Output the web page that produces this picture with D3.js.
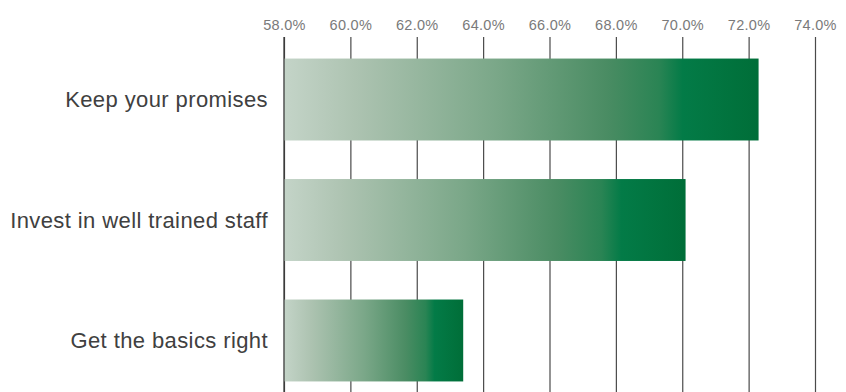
<!DOCTYPE html>
<html>
<head>
<meta charset="utf-8">
<script src="https://cdn.jsdelivr.net/npm/d3@7"></script>
<style>
  body { margin: 0; background: #fff; }
  svg { display: block; font-family: "Liberation Sans", Arial, sans-serif; }
  .x-axis text { fill: #7a7a7a; font-size: 14.5px; letter-spacing: 0.3px; }
  .cat-label { fill: #404040; font-size: 22px; letter-spacing: 0.4px; }
</style>
</head>
<body>
<svg id="chart" width="846" height="392"></svg>
<script>
const categories = ["Keep your promises", "Invest in well trained staff", "Get the basics right"];
const values = [72.3, 70.1, 63.4];
const tickValues = [58, 60, 62, 64, 66, 68, 70, 72, 74];

const WIDTH = 846;
const HEIGHT = 392;
const gridTop = 37;

const svg = d3.select("#chart");

const xScale = d3.scaleLinear().domain([58, 74]).range([284, 815]);

const yScale = d3
  .scaleBand()
  .domain(categories)
  .range([20, 420])
  .paddingInner(0.32)
  .paddingOuter(0.32);

// gradient for the bars, stretched over each bar
const defs = svg.append("defs");
const grad = defs
  .append("linearGradient")
  .attr("id", "barGrad")
  .attr("x1", "0%")
  .attr("x2", "100%")
  .attr("y1", "0%")
  .attr("y2", "0%");
[
  [0, "#c4d4c8"],
  [0.15, "#adc3b1"],
  [0.45, "#7aa788"],
  [0.68, "#4a8c63"],
  [0.79, "#2a8454"],
  [0.84, "#037b47"],
  [1, "#006e38"],
].forEach(([o, c]) => grad.append("stop").attr("offset", o).attr("stop-color", c));

// axis with gridlines
svg
  .append("g")
  .attr("class", "x-axis")
  .attr("transform", `translate(0, ${gridTop})`)
  .call(
    d3
      .axisTop(xScale)
      .tickValues(tickValues)
      .tickSize(-(HEIGHT - gridTop))
      .tickPadding(7)
      .tickFormat((d) => d3.format(".1f")(d) + "%")
  )
  .call((g) => g.select(".domain").remove())
  .call((g) => g.selectAll(".tick line").attr("stroke", "#4a4a4a").attr("stroke-width", 1.2));

// bars
svg
  .append("g")
  .selectAll("rect")
  .data(values)
  .join("rect")
  .attr("x", xScale(58))
  .attr("y", (d, i) => yScale(categories[i]))
  .attr("width", (d) => xScale(d) - xScale(58))
  .attr("height", yScale.bandwidth())
  .attr("fill", "url(#barGrad)");

// baseline on top of bars
svg
  .append("line")
  .attr("x1", xScale(58))
  .attr("x2", xScale(58))
  .attr("y1", gridTop)
  .attr("y2", HEIGHT)
  .attr("stroke", "#333")
  .attr("stroke-width", 1.2);

// category labels
svg
  .append("g")
  .selectAll("text")
  .data(categories)
  .join("text")
  .attr("class", "cat-label")
  .attr("text-anchor", "end")
  .attr("x", 268)
  .attr("y", (d) => yScale(d) + yScale.bandwidth() / 2)
  .attr("dy", "0.35em")
  .text((d) => d);
</script>
</body>
</html>
